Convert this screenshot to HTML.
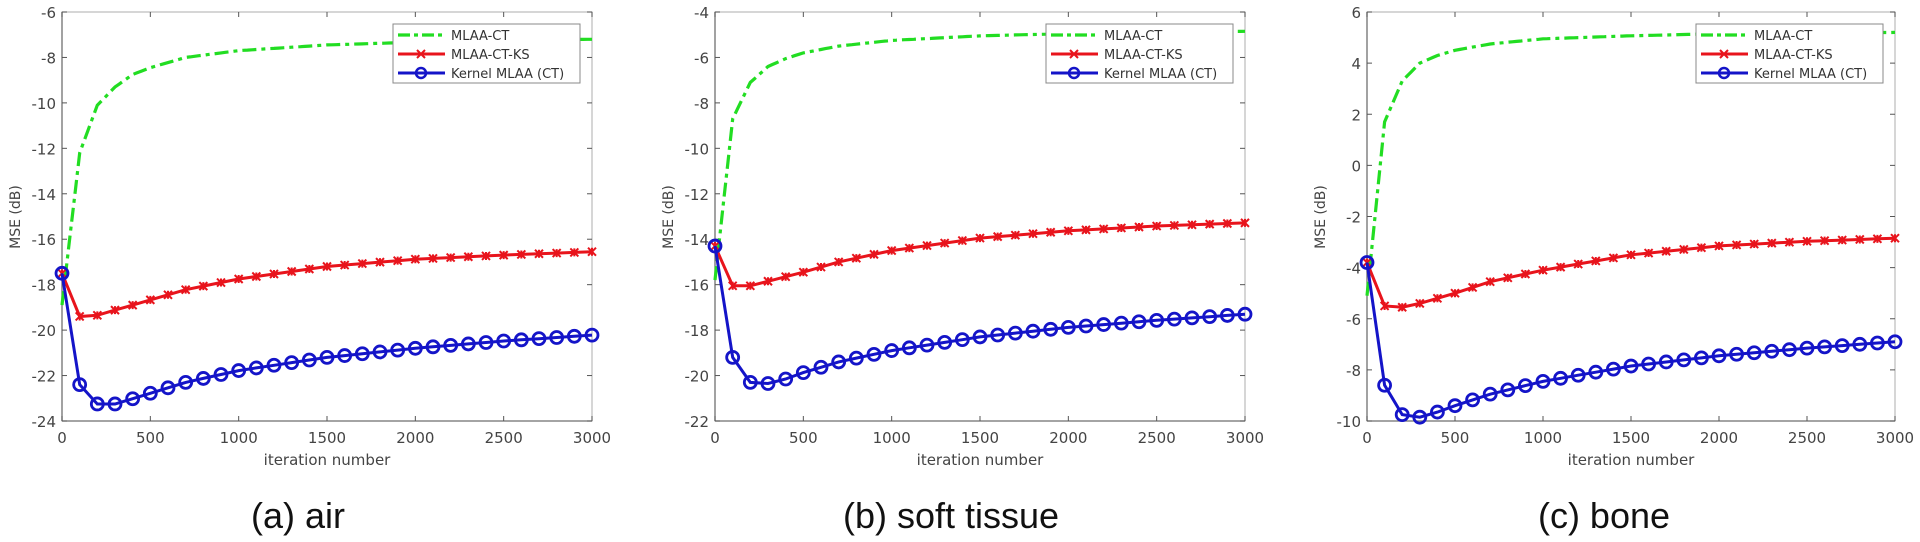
<!DOCTYPE html>
<html><head><meta charset="utf-8"><style>
html,body{margin:0;padding:0;background:#fff;width:1920px;height:542px;overflow:hidden}
svg{display:block}
</style></head><body>
<svg id="s" width="1920" height="542" xmlns="http://www.w3.org/2000/svg" font-family="DejaVu Sans, sans-serif"></svg>
<script>
const charts=[
 {x0:62,x1:592,ymax:-6,ymin:-24,step:2,cap:"(a) air",cx:298,ylx:14,
  g:[[0,-18.9],[100,-12.2],[200,-10.1],[300,-9.3],[400,-8.75],[500,-8.45],[700,-8.0],[1000,-7.7],[1500,-7.45],[2000,-7.33],[2500,-7.25],[3000,-7.2]],
  r:[[0,-17.5],[100,-19.4],[200,-19.35],[300,-19.12],[400,-18.9],[500,-18.67],[700,-18.22],[1000,-17.75],[1500,-17.2],[2000,-16.88],[2500,-16.7],[3000,-16.55]],
  b:[[0,-17.5],[100,-22.4],[200,-23.25],[300,-23.25],[400,-23.02],[500,-22.78],[700,-22.3],[1000,-21.78],[1500,-21.2],[2000,-20.8],[2500,-20.48],[3000,-20.22]]},
 {x0:715,x1:1245,ymax:-4,ymin:-22,step:2,cap:"(b) soft tissue",cx:951,ylx:667,
  g:[[0,-15.8],[100,-8.7],[200,-7.1],[300,-6.4],[400,-6.05],[500,-5.8],[700,-5.5],[1000,-5.25],[1500,-5.05],[2000,-4.95],[2500,-4.9],[3000,-4.85]],
  r:[[0,-14.3],[100,-16.05],[200,-16.05],[300,-15.85],[400,-15.65],[500,-15.45],[700,-15.0],[1000,-14.5],[1500,-13.95],[2000,-13.63],[2500,-13.42],[3000,-13.28]],
  b:[[0,-14.3],[100,-19.2],[200,-20.3],[300,-20.35],[400,-20.15],[500,-19.87],[700,-19.4],[1000,-18.9],[1500,-18.3],[2000,-17.88],[2500,-17.57],[3000,-17.3]]},
 {x0:1367,x1:1895,ymax:6,ymin:-10,step:2,cap:"(c) bone",cx:1604,ylx:1319,
  g:[[0,-5.1],[100,1.7],[200,3.3],[300,4.0],[400,4.3],[500,4.5],[700,4.75],[1000,4.95],[1500,5.07],[2000,5.15],[2500,5.18],[3000,5.2]],
  r:[[0,-3.8],[100,-5.5],[200,-5.55],[300,-5.4],[400,-5.2],[500,-5.0],[700,-4.55],[1000,-4.1],[1500,-3.5],[2000,-3.15],[2500,-2.97],[3000,-2.85]],
  b:[[0,-3.8],[100,-8.6],[200,-9.75],[300,-9.85],[400,-9.65],[500,-9.4],[700,-8.95],[1000,-8.45],[1500,-7.85],[2000,-7.45],[2500,-7.15],[3000,-6.9]]}
];
const Y0=12,Y1=421;
let h="";
function interp(a,t){for(let i=0;i<a.length-1;i++){if(t>=a[i][0]&&t<=a[i+1][0]){const f=(t-a[i][0])/(a[i+1][0]-a[i][0]);return a[i][1]+f*(a[i+1][1]-a[i][1]);}}return a[a.length-1][1];}
for(const c of charts){
 const X=t=>c.x0+(c.x1-c.x0)*t/3000, Y=v=>Y0+(Y1-Y0)*(c.ymax-v)/(c.ymax-c.ymin);
 h+=`<rect x="${c.x0}" y="${Y0}" width="${c.x1-c.x0}" height="${Y1-Y0}" fill="none" stroke="#bbb" stroke-width="1.2"/>`;
 h+=`<line x1="${c.x0}" y1="${Y0}" x2="${c.x0}" y2="${Y1}" stroke="#777" stroke-width="1.3"/><line x1="${c.x0}" y1="${Y1}" x2="${c.x1}" y2="${Y1}" stroke="#777" stroke-width="1.3"/>`;
 for(let v=c.ymax;v>=c.ymin-0.001;v-=c.step){const y=Y(v);
  h+=`<line x1="${c.x0}" y1="${y}" x2="${c.x0+5}" y2="${y}" stroke="#555"/><line x1="${c.x1-5}" y1="${y}" x2="${c.x1}" y2="${y}" stroke="#555"/>`;
  h+=`<text x="${c.x0-6}" y="${y+6}" font-size="15" fill="#444" text-anchor="end">${v}</text>`;}
 for(let t=0;t<=3000;t+=500){const x=X(t);
  h+=`<line x1="${x}" y1="${Y1}" x2="${x}" y2="${Y1-5}" stroke="#555"/><line x1="${x}" y1="${Y0}" x2="${x}" y2="${Y0+5}" stroke="#555"/>`;
  h+=`<text x="${x}" y="443" font-size="15" fill="#444" text-anchor="middle">${t}</text>`;}
 h+=`<text x="${(c.x0+c.x1)/2}" y="465" font-size="15" fill="#444" text-anchor="middle">iteration number</text>`;
 h+=`<text transform="translate(${c.ylx+6},217) rotate(-90)" font-size="14" fill="#444" text-anchor="middle">MSE (dB)</text>`;
 h+=`<text x="${c.cx}" y="528" font-size="36" fill="#111" text-anchor="middle" font-family="Liberation Sans, sans-serif">${c.cap}</text>`;
 let p=[];for(let t=0;t<=3000;t+=25)p.push(X(t).toFixed(1)+","+Y(interp(c.g,t)).toFixed(1));
 h+=`<polyline points="${p.join(" ")}" fill="none" stroke="#22dd22" stroke-width="3.2" stroke-dasharray="14,5,4,5"/>`;
 const lx=c.x1-199,ly=24;
 h+=`<rect x="${lx}" y="${ly}" width="187" height="59" fill="#fff" stroke="#888" stroke-width="1"/>`;
 h+=`<line x1="${lx+5}" y1="${ly+11}" x2="${lx+52}" y2="${ly+11}" stroke="#22dd22" stroke-width="3.2" stroke-dasharray="12,4,4,4"/>`;
 h+=`<line x1="${lx+5}" y1="${ly+30}" x2="${lx+52}" y2="${ly+30}" stroke="#e8141c" stroke-width="3"/>`;
 h+=`<path d="M${lx+24},${ly+26}L${lx+32},${ly+34}M${lx+24},${ly+34}L${lx+32},${ly+26}" stroke="#e8141c" stroke-width="2"/>`;
 h+=`<line x1="${lx+5}" y1="${ly+49}" x2="${lx+52}" y2="${ly+49}" stroke="#1414c8" stroke-width="3"/><circle cx="${lx+28}" cy="${ly+49}" r="5" fill="none" stroke="#1414c8" stroke-width="2.5"/>`;
 ["MLAA-CT","MLAA-CT-KS","Kernel MLAA (CT)"].forEach((s,i)=>{h+=`<text x="${lx+58}" y="${ly+16+i*19}" font-size="13" fill="#333">${s}</text>`;});
 for(const [k,col] of [["r","#e8141c"],["b","#1414c8"]]){
  let q=[];for(let t=0;t<=3000;t+=100)q.push([X(t),Y(interp(c[k],t))]);
  h+=`<polyline points="${q.map(a=>a[0].toFixed(1)+","+a[1].toFixed(1)).join(" ")}" fill="none" stroke="${col}" stroke-width="3"/>`;
  for(const [x,y] of q){
   if(k=="r"){h+=`<path d="M${x-4},${y-4}L${x+4},${y+4}M${x-4},${y+4}L${x+4},${y-4}M${x},${y-4}L${x},${y+4}" stroke="${col}" stroke-width="2"/>`;}
   else h+=`<circle cx="${x}" cy="${y}" r="6" fill="none" stroke="${col}" stroke-width="2.8"/>`;
  }
 }
}
document.getElementById("s").innerHTML=h;
</script>
</body></html>
